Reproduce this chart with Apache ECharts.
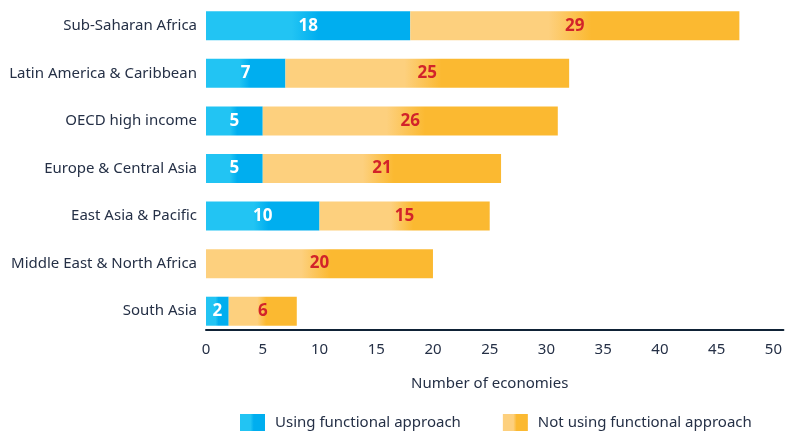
<!DOCTYPE html>
<html>
<head>
<meta charset="utf-8">
<script src="https://cdn.jsdelivr.net/npm/echarts@6/dist/echarts.min.js"></script>
<style>
  html, body { margin: 0; padding: 0; background: #ffffff; }
  #chart { width: 785px; height: 432px; }
</style>
</head>
<body>
<div id="chart"></div>
<script>
// Regions, top to bottom
const regions = [
  'Sub-Saharan Africa',
  'Latin America & Caribbean',
  'OECD high income',
  'Europe & Central Asia',
  'East Asia & Pacific',
  'Middle East & North Africa',
  'South Asia'
];
// Number of economies per region
const usingFunctional = [18, 7, 5, 5, 10, 0, 2];
const notUsingFunctional = [29, 25, 26, 21, 15, 20, 6];
const seriesNames = ['Using functional approach', 'Not using functional approach'];
const xTicks = [0, 5, 10, 15, 20, 25, 30, 35, 40, 45, 50];

const FONT = '"Noto Sans", sans-serif';
const TEXT = '#253046';

function barGradient(light, dark) {
  return new echarts.graphic.LinearGradient(0, 0, 1, 0, [
    { offset: 0, color: light },
    { offset: 0.42, color: light },
    { offset: 0.55, color: dark },
    { offset: 1, color: dark }
  ]);
}

const chart = echarts.init(document.getElementById('chart'), null, { renderer: 'canvas' });

chart.setOption({
  animation: false,
  textStyle: { fontFamily: FONT },
  grid: { left: 206, right: 0, top: 2, height: 333 },
  legend: {
    top: 409,
    left: 235,
    itemWidth: 25,
    itemHeight: 17,
    itemGap: 42,
    icon: 'rect',
    textStyle: { fontFamily: FONT, fontSize: 15, color: TEXT, padding: [0, 0, 0, 5] },
    data: seriesNames
  },
  xAxis: {
    type: 'value',
    min: 0,
    max: 50.88,
    interval: 5,
    offset: -5,
    name: 'Number of economies',
    nameLocation: 'middle',
    nameGap: 46,
    nameTextStyle: { fontFamily: FONT, fontSize: 15, color: TEXT, padding: [0, 10, 0, 0] },
    axisLine: { show: true, lineStyle: { color: '#0f2236', width: 2 } },
    axisTick: { show: false },
    splitLine: { show: false },
    axisLabel: {
      margin: 12,
      fontFamily: FONT,
      fontSize: 15,
      color: TEXT,
      showMaxLabel: false,
      formatter: v => (xTicks.indexOf(v) >= 0 ? String(v) : '')
    }
  },
  yAxis: {
    type: 'category',
    inverse: true,
    data: regions,
    axisLine: { show: false },
    axisTick: { show: false },
    axisLabel: { margin: 9, fontFamily: FONT, fontSize: 15, color: TEXT }
  },
  series: [
    {
      name: seriesNames[0],
      type: 'bar',
      stack: 'total',
      barWidth: 29,
      data: usingFunctional,
      itemStyle: { color: barGradient('#22c4f3', '#00aeef') },
      label: {
        show: true,
        position: 'inside',
        color: '#ffffff',
        fontFamily: FONT,
        fontWeight: 'bold',
        fontSize: 17,
        formatter: p => (p.value > 0 ? p.value : '')
      }
    },
    {
      name: seriesNames[1],
      type: 'bar',
      stack: 'total',
      barWidth: 29,
      data: notUsingFunctional,
      itemStyle: { color: barGradient('#fdd07e', '#fbb931') },
      label: {
        show: true,
        position: 'inside',
        color: '#d2232a',
        fontFamily: FONT,
        fontWeight: 'bold',
        fontSize: 17,
        formatter: p => (p.value > 0 ? p.value : '')
      }
    }
  ]
});
</script>
</body>
</html>
